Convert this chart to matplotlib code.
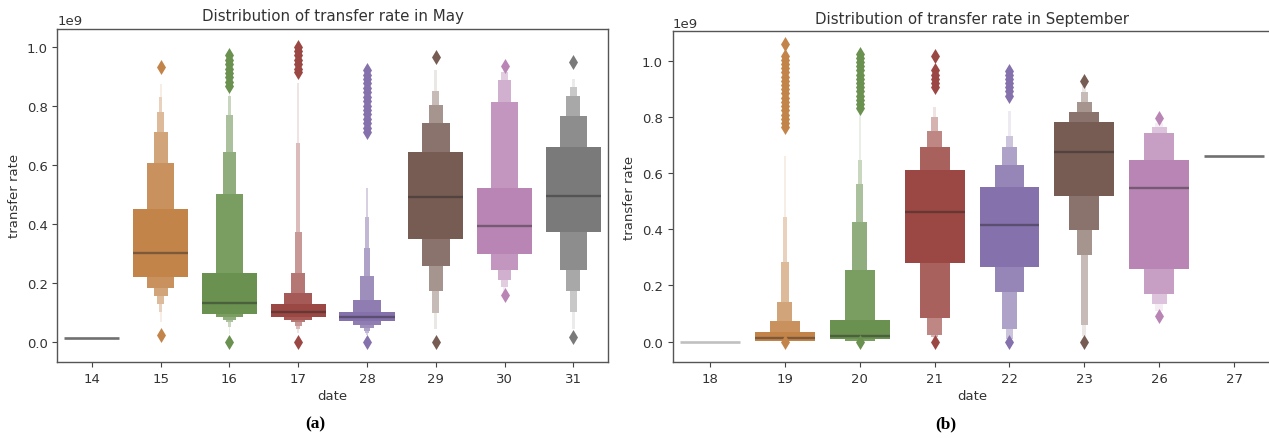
import numpy as np
import matplotlib.pyplot as plt
from matplotlib.colors import to_rgb

# ---- May (panel a) ----
may_dates = ['14', '15', '16', '17', '28', '29', '30', '31']
may_colors = ['#707070', '#c3844a', '#6a9150', '#9b4743', '#8571ab', '#775c54', '#b985b5', '#7a7a7a']
may_medians = [0.011, 0.302, 0.131, 0.102, 0.082, 0.490, 0.393, 0.494]
# letter-value boxes, innermost first (values in 1e9)
may_lo = [[],
          [0.218, 0.181, 0.156, 0.128, 0.099, 0.065],
          [0.093, 0.082, 0.074, 0.065, 0.049, 0.025],
          [0.084, 0.074, 0.065, 0.054, 0.043, 0.030],
          [0.069, 0.056, 0.046, 0.037, 0.029, 0.022, 0.015],
          [0.348, 0.256, 0.173, 0.097, 0.043],
          [0.297, 0.244, 0.210, 0.184, 0.167],
          [0.370, 0.244, 0.173, 0.099, 0.043]]
may_hi = [[],
          [0.450, 0.605, 0.711, 0.779, 0.830, 0.872],
          [0.234, 0.501, 0.641, 0.767, 0.833, 0.870],
          [0.126, 0.165, 0.231, 0.370, 0.673, 0.878],
          [0.099, 0.142, 0.221, 0.316, 0.421, 0.519, 0.607],
          [0.644, 0.740, 0.802, 0.850, 0.921],
          [0.521, 0.813, 0.886, 0.914, 0.925],
          [0.661, 0.763, 0.833, 0.863, 0.889]]
may_out = [[],
           [0.931, 0.023],
           [0.865, 0.880, 0.895, 0.910, 0.925, 0.940, 0.955, 0.970, 0.0],
           [0.912, 0.925, 0.940, 0.955, 0.970, 0.985, 1.000, 0.0],
           [0.709, 0.725, 0.740, 0.755, 0.770, 0.785, 0.800, 0.815, 0.830,
            0.845, 0.860, 0.875, 0.890, 0.905, 0.920, 0.0],
           [0.966, 0.0],
           [0.934, 0.159],
           [0.948, 0.015]]

# ---- September (panel b) ----
sep_dates = ['18', '19', '20', '21', '22', '23', '26', '27']
sep_colors = ['#c0c0c0', '#c3844a', '#6a9150', '#9b4743', '#8571ab', '#775c54', '#b985b5', '#707070']
sep_medians = [0.0, 0.014, 0.021, 0.463, 0.414, 0.674, 0.547, 0.661]
sep_lo = [[],
          [0.004, 0.002, 0.001, 0.001, 0.0, 0.0],
          [0.010, 0.004, 0.002, 0.001, 0.0, 0.0],
          [0.279, 0.083, 0.024, 0.015, 0.010],
          [0.267, 0.176, 0.045, 0.009, 0.003],
          [0.520, 0.397, 0.310, 0.059, 0.020],
          [0.259, 0.170, 0.134, 0.110],
          []]
sep_hi = [[],
          [0.036, 0.075, 0.140, 0.282, 0.445, 0.662],
          [0.078, 0.256, 0.425, 0.561, 0.646, 0.822],
          [0.610, 0.694, 0.751, 0.798, 0.834],
          [0.552, 0.629, 0.692, 0.731, 0.822],
          [0.781, 0.816, 0.852, 0.887, 0.911],
          [0.647, 0.743, 0.763, 0.778],
          []]
sep_out = [[],
           [0.763, 0.778, 0.793, 0.808, 0.823, 0.838, 0.853, 0.868, 0.883, 0.898,
            0.913, 0.928, 0.943, 0.958, 0.973, 0.988, 1.003, 1.018, 1.059, 0.0],
           [0.830, 0.845, 0.860, 0.875, 0.890, 0.905, 0.920, 0.935, 0.950, 0.965,
            0.980, 0.995, 1.010, 1.025, 0.0],
           [0.905, 0.920, 0.935, 0.950, 0.965, 1.018, 0.0],
           [0.875, 0.890, 0.905, 0.920, 0.935, 0.950, 0.964, 0.0],
           [0.929, 0.0],
           [0.795, 0.090],
           []]

TEXT = '#333333'
FS = 9.5


def lighten(c, t):
    r = np.array(to_rgb(c))
    return tuple(r * (1 - t) + t)


def draw_panel(ax, dates, colors, medians, lows, highs, outs, title, ylim):
    for i in range(len(dates)):
        lo, hi = lows[i], highs[i]
        n = len(lo)
        if n == 0:
            ax.plot([i - 0.4, i + 0.4], [medians[i] * 1e9] * 2, color=colors[i], lw=1.9,
                    solid_capstyle='butt')
            continue
        # outer (narrow, lighter) boxes first, innermost last
        for k in range(n - 1, -1, -1):
            w = 0.8 * 0.5 ** k
            t = 0.85 * (k / max(n - 1, 1)) ** 1.3
            ax.bar(i, (hi[k] - lo[k]) * 1e9, bottom=lo[k] * 1e9, width=w,
                   color=lighten(colors[i], t), linewidth=0)
        ax.plot([i - 0.4, i + 0.4], [medians[i] * 1e9] * 2, color='.15', alpha=.45, lw=1.7,
                solid_capstyle='butt')
        if outs[i]:
            ax.scatter([i] * len(outs[i]), np.array(outs[i]) * 1e9, marker='d', s=58,
                       color=colors[i], linewidths=0, zorder=3)
    ax.set_xticks(range(len(dates)))
    ax.set_xticklabels(dates)
    ax.set_xlim(-0.5, len(dates) - 0.5)
    ax.set_ylim(ylim[0] * 1e9, ylim[1] * 1e9)
    ax.set_yticks(np.arange(0, 1.01, 0.2) * 1e9)
    ax.set_title(title, fontsize=10.8, color=TEXT, pad=6)
    ax.set_xlabel('date', fontsize=FS, color=TEXT, labelpad=3)
    ax.set_ylabel('transfer rate', fontsize=FS, color=TEXT)
    ax.tick_params(labelsize=FS, colors='#444444', labelcolor=TEXT, length=3.5)
    ax.yaxis.get_offset_text().set_fontsize(FS)
    ax.yaxis.get_offset_text().set_color(TEXT)
    for sp in ax.spines.values():
        sp.set_color('#555555')
        sp.set_linewidth(1.0)


fig = plt.figure(figsize=(12.69, 4.39), dpi=100)
ax1 = fig.add_axes([0.0453, 0.1731, 0.4336, 0.7597])
ax2 = fig.add_axes([0.5300, 0.1720, 0.4720, 0.7550])

draw_panel(ax1, may_dates, may_colors, may_medians, may_lo, may_hi, may_out,
           'Distribution of transfer rate in May', (-0.069, 1.061))
draw_panel(ax2, sep_dates, sep_colors, sep_medians, sep_lo, sep_hi, sep_out,
           'Distribution of transfer rate in September', (-0.074, 1.105))

fig.text(315 / 1269, 1 - 424 / 439, '(a)', ha='center', va='center', fontsize=12.5,
         fontweight='bold', family='Liberation Serif')
fig.text(946 / 1269, 1 - 424 / 439, '(b)', ha='center', va='center', fontsize=12.5,
         fontweight='bold', family='Liberation Serif')

fig.savefig('out.png', dpi=100)
